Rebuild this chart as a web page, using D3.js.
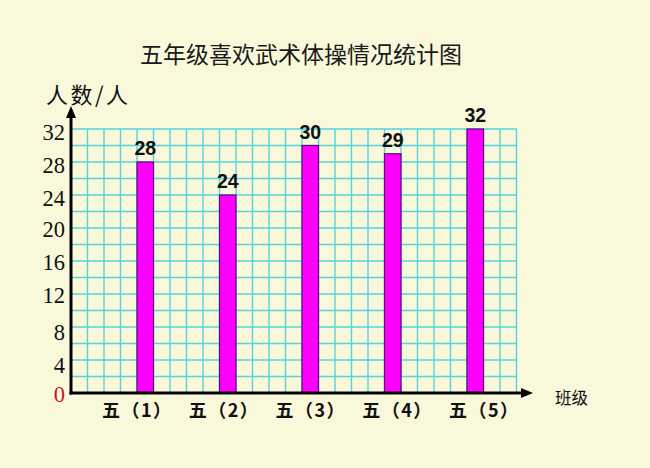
<!DOCTYPE html>
<html><head><meta charset="utf-8">
<script src="https://cdn.jsdelivr.net/npm/d3@7"></script>
<style>html,body{margin:0;padding:0;background:#FAF8DB;}svg{display:block;}</style>
</head><body>
<svg id="c" width="650" height="468"></svg>
<script>
const title = "五年级喜欢武术体操情况统计图";
const categories = ["五（1）","五（2）","五（3）","五（4）","五（5）"];
const values = [28, 24, 30, 29, 32];
const yTicks = [0, 4, 8, 12, 16, 20, 24, 28, 32];
const yLabel = "人数/人";
const xLabel = "班级";

const svg = d3.select("#c");
svg.append("rect").attr("width",650).attr("height",468).attr("fill","#FAF8DB");

const x0 = 71, cell = 16.5, nCols = 27;
const y = d3.scaleLinear().domain([0, 32]).range([393, 129]);
const col = d3.scaleLinear().domain([0, nCols]).range([x0, x0 + cell*nCols]);
const xc = d3.scalePoint().domain(categories).range([col(4.5), col(24.5)]);
const xl = d3.scalePoint().domain(categories).range([col(4.5)-8, col(24.5)+9]);
const bw = cell;

// grid
const g = svg.append("g").attr("stroke","#52D4E0").attr("stroke-width",1.4);
g.selectAll("line.h").data(d3.range(0, 33, 2)).join("line")
  .attr("x1", col(0)).attr("x2", col(nCols)).attr("y1", d=>y(d)).attr("y2", d=>y(d));
g.selectAll("line.v").data(d3.range(0, nCols+1)).join("line")
  .attr("x1", d=>col(d)).attr("x2", d=>col(d)).attr("y1", y(0)).attr("y2", y(32));

// bars
svg.selectAll("rect.bar").data(values).join("rect")
  .attr("x",(d,i)=>xc(categories[i]) - bw/2).attr("width",bw)
  .attr("y",d=>y(d)).attr("height",d=>y(0)-y(d))
  .attr("fill","#FF00FF").attr("stroke","#5B0A7A").attr("stroke-width",1.2);

// value labels
svg.selectAll("text.val").data(values).join("text")
  .attr("x",(d,i)=>xc(categories[i])).attr("y",d=>y(d)-7)
  .attr("text-anchor","middle").attr("font-family","Liberation Sans, Arial, sans-serif")
  .attr("font-weight","bold").attr("font-size",19.5).attr("fill","#111").text(d=>d);

// axes
const ax = svg.append("g").attr("stroke","#000").attr("stroke-width",3).attr("fill","none");
ax.append("line").attr("x1",x0).attr("x2",x0).attr("y1",y(0)+1.5).attr("y2",114);
ax.append("line").attr("x1",x0-1.5).attr("x2",524).attr("y1",y(0)).attr("y2",y(0));
svg.append("path").attr("d",`M${x0},106 L${x0-5},118 L${x0+5},118 Z`).attr("fill","#000");
svg.append("path").attr("d",`M533,${y(0)} L521,${y(0)-5} L521,${y(0)+5} Z`).attr("fill","#000");

// y tick labels
svg.selectAll("text.yt").data(yTicks).join("text")
  .attr("x",65).attr("y",d=>y(d) + 9 + (d===0?0:(d<=8?4:(d>=24?2:0))))
  .attr("text-anchor","end").attr("font-family","Liberation Serif, Times New Roman, serif")
  .attr("font-size",22.5).attr("fill",d=>d===0?"#C8161D":"#111").text(d=>d);

// x labels
svg.selectAll("text.xt").data(categories).join("text")
  .attr("x",d=>xl(d)).attr("y",417)
  .attr("text-anchor","middle").attr("font-family","Noto Sans CJK SC, sans-serif")
  .attr("font-weight","bold").attr("font-size",18).attr("letter-spacing",1.5).attr("fill","#111").text(d=>d);

svg.append("text").attr("x",555).attr("y",404).attr("font-family","Noto Sans CJK SC, sans-serif")
  .attr("font-size",16.5).attr("fill","#111").text(xLabel);
svg.append("text").attr("x",46).attr("y",103).attr("font-family","Noto Sans CJK SC, sans-serif")
  .attr("font-size",22).attr("letter-spacing",2.5).attr("fill","#111").text(yLabel);
svg.append("text").attr("x",301).attr("y",63).attr("text-anchor","middle")
  .attr("font-family","Noto Sans CJK SC, sans-serif").attr("font-size",23).attr("fill","#1a1a1a").text(title);
</script>
</body></html>
